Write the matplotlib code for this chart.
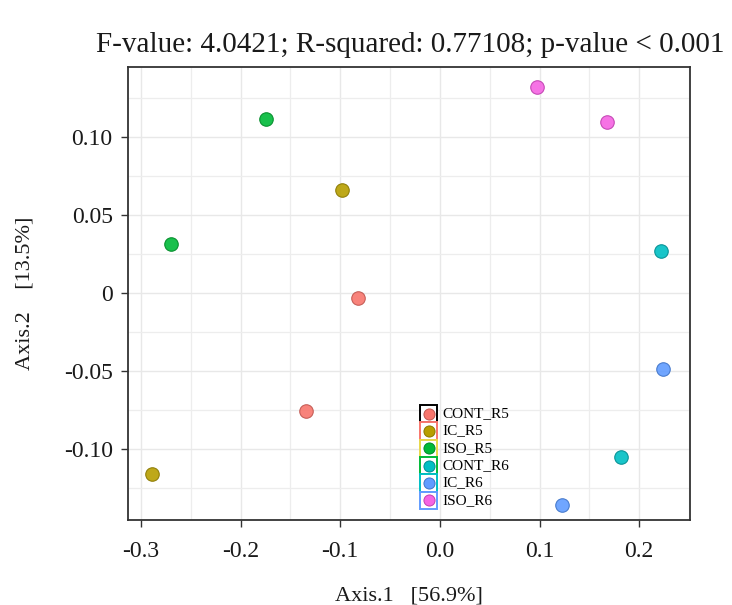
import matplotlib.pyplot as plt
import numpy as np
from matplotlib.patches import Rectangle
from matplotlib.ticker import MultipleLocator, FixedLocator

plt.rcParams['font.family'] = ['Liberation Serif', 'DejaVu Serif']

# data
groups = ['CONT_R5', 'IC_R5', 'ISO_R5', 'CONT_R6', 'IC_R6', 'ISO_R6']
colors = ['#F8766D', '#B79F00', '#00BA38', '#00BFC4', '#619CFF', '#F564E3']
edges = ['#c0564f', '#8a7800', '#008a28', '#008d91', '#3f74c8', '#c040b0']
box_colors = ['black', '#F8766D', '#E8D84A', '#00BA38', '#00BFC4', '#619CFF']
axis1 = {
    'CONT_R5': [-0.082, -0.134],
    'IC_R5': [-0.098, -0.289],
    'ISO_R5': [-0.175, -0.270],
    'CONT_R6': [0.2215, 0.182],
    'IC_R6': [0.2235, 0.123],
    'ISO_R6': [0.097, 0.168],
}
axis2 = {
    'CONT_R5': [-0.003, -0.0756],
    'IC_R5': [0.066, -0.116],
    'ISO_R5': [0.1115, 0.0314],
    'CONT_R6': [0.0269, -0.105],
    'IC_R6': [-0.0487, -0.136],
    'ISO_R6': [0.132, 0.1096],
}

fig = plt.figure(figsize=(7.32, 6.05), dpi=100)
ax = fig.add_axes([128/732, 1-520/605, 562/732, 453/605])

for g, c, e in zip(groups, colors, edges):
    ax.scatter(axis1[g], axis2[g], s=95, color=c, edgecolors=e, linewidths=0.8,
               alpha=0.9, zorder=3)

ax.set_xlim(-0.313, 0.251)
ax.set_ylim(-0.1455, 0.1449)
ax.xaxis.set_major_locator(FixedLocator([-0.3, -0.2, -0.1, 0.0, 0.1, 0.2]))
ax.xaxis.set_minor_locator(MultipleLocator(0.05))
ax.yaxis.set_major_locator(FixedLocator([-0.10, -0.05, 0, 0.05, 0.10]))
ax.yaxis.set_minor_locator(MultipleLocator(0.025))
ax.set_xticklabels(['-0.3', '-0.2', '-0.1', '0.0', '0.1', '0.2'])
ax.set_yticklabels(['-0.10', '-0.05', '0', '0.05', '0.10'])
ax.tick_params(which='major', labelsize=17, length=5, width=1, color='#333333',
               labelcolor='#1a1a1a')
ax.tick_params(axis='x', pad=10)
ax.tick_params(axis='y', pad=6)
ax.tick_params(which='minor', length=0)
ax.grid(which='major', color='#e8e8e8', linewidth=1.0)
ax.grid(which='minor', color='#ededed', linewidth=0.9)
ax.set_axisbelow(True)
for s in ax.spines.values():
    s.set_color('#333333')
    s.set_linewidth(1.3)

ax.set_xlabel('Axis.1   [56.9%]', fontsize=16, labelpad=18, color='#1a1a1a')
ax.set_ylabel('Axis.2    [13.5%]', fontsize=16, labelpad=21, color='#1a1a1a')
ax.set_title('F-value: 4.0421; R-squared: 0.77108; p-value < 0.001',
             fontsize=21, pad=11, x=0.502, color='#1a1a1a')

# legend with framed keys
bw, bh = 17/562, 17.3/453
x0 = (420-128)/562
y_top = (520-405)/453
for i, (g, c, e, bc) in enumerate(zip(groups, colors, edges, box_colors)):
    yb = y_top - (i+1)*bh
    ax.add_patch(Rectangle((x0, yb), bw, bh, transform=ax.transAxes,
                           facecolor='white', edgecolor=bc, linewidth=1.4,
                           zorder=4, clip_on=False))
    ax.plot(x0+bw/2, yb+bh/2, 'o', ms=8, color=c, mec=e, mew=0.7,
            transform=ax.transAxes, zorder=5)
    ax.text(x0+bw+5/562, yb+bh/2, g, transform=ax.transAxes, fontsize=11,
            va='center', ha='left', zorder=5)

fig.savefig('out.png', dpi=100)
